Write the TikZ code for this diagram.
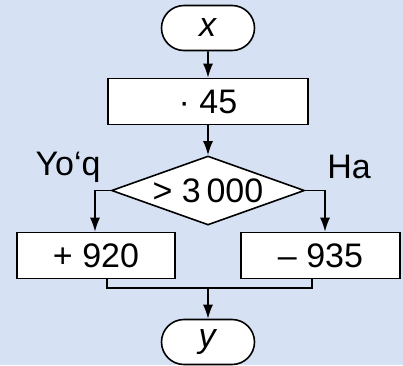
\documentclass[tikz,border=0pt]{standalone}
\usepackage{fontspec}
\setmainfont{Liberation Sans}
\usepackage{tikz}
\usetikzlibrary{positioning,shapes.geometric,shapes.misc,arrows.meta}
\definecolor{bgblue}{RGB}{214,226,243}

\begin{document}
\begin{tikzpicture}[x=1pt,y=-1pt,
    every node/.style={font=\fontsize{34}{38}\selectfont, inner sep=0pt},
    term/.style={draw, fill=white, line width=1.6pt, rounded rectangle, minimum width=93pt, minimum height=45pt},
    proc/.style={draw, fill=white, line width=1.6pt, rectangle, minimum height=46pt},
    cond/.style={draw, fill=white, line width=1.6pt, diamond, aspect=2.84, minimum width=193pt, minimum height=69pt},
    conn/.style={line width=1.6pt, -{Latex[length=14pt,width=10pt]}}]
    \fill[bgblue] (0,0) rectangle (403,365);
    \useasboundingbox (0,0) rectangle (403,365);
    \node[term] (x) at (208,28) {\textit{x}};
    \node[proc, minimum width=200pt] (mul) at (208,101.5) {· 45};
    \node[cond] (cmp) at (208,190.5) {> 3\,000};
    \node[proc, minimum width=158pt] (add) at (96,255.5) {+ 920};
    \node[proc, minimum width=159pt] (sub) at (320.5,255.5) {– 935};
    \node[term] (y) at (208,342) {\textit{y}};
    \node (no) at (68,167) {Yo‘q};
    \node (yes) at (349,167) {Ha};
    \coordinate (join) at (208,288);
    % arrows
    \draw[conn] (x) -- (mul);
    \draw[conn] (mul) -- (cmp);
    \draw[conn] (cmp.west) -| ([xshift=-1pt]add.north);
    \draw[conn] (cmp.east) -| ([xshift=4.5pt]sub.north);
    \draw[line width=1.6pt] ([xshift=11pt]add.south) |- (join) -| ([xshift=-8.5pt]sub.south);
    \draw[conn] (join) -- (y);
\end{tikzpicture}
\end{document}
